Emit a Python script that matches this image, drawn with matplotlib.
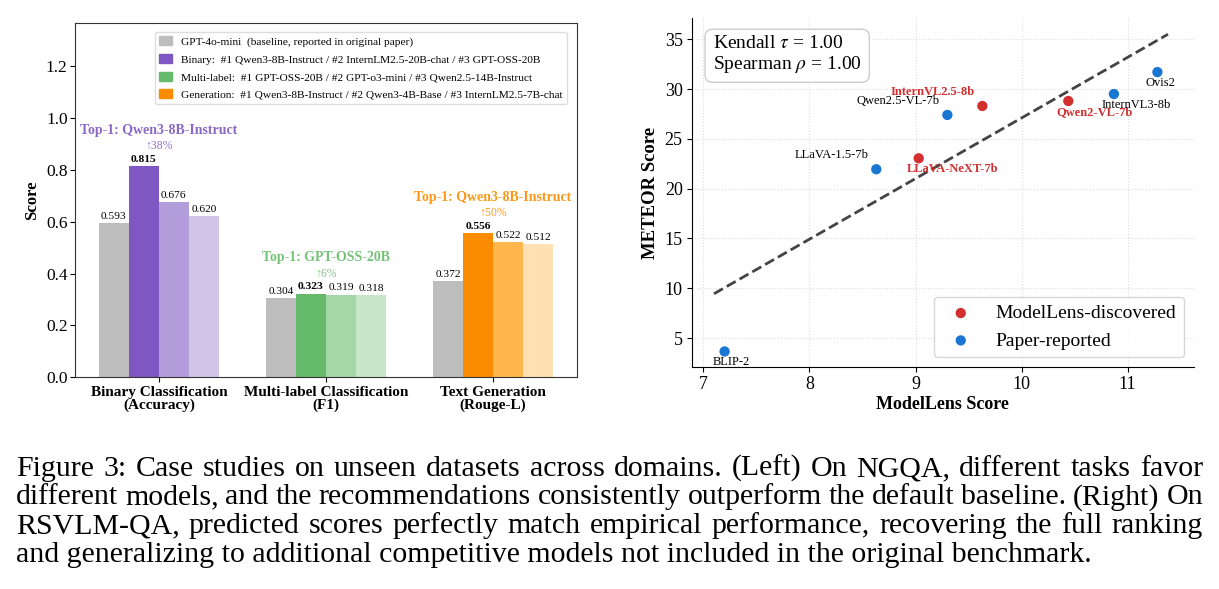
import matplotlib
matplotlib.use("Agg")
import matplotlib.pyplot as plt
from matplotlib.patches import Patch

plt.rcParams["font.family"] = ["Liberation Serif", "DejaVu Serif"]
plt.rcParams["mathtext.fontset"] = "stix"

# ---- left panel data ----
TASKS = ["Binary Classification\n(Accuracy)", "Multi-label Classification\n(F1)", "Text Generation\n(Rouge-L)"]
BASELINE = [0.593, 0.304, 0.372]
RANK1 = [0.815, 0.323, 0.556]
RANK2 = [0.676, 0.319, 0.522]
RANK3 = [0.620, 0.318, 0.512]
GAIN_PCT = [38, 6, 50]
TOP1_NAMES = ["Qwen3-8B-Instruct", "GPT-OSS-20B", "Qwen3-8B-Instruct"]
LEGEND_LABELS = [
    "GPT-4o-mini  (baseline, reported in original paper)",
    "Binary:  #1 Qwen3-8B-Instruct / #2 InternLM2.5-20B-chat / #3 GPT-OSS-20B",
    "Multi-label:  #1 GPT-OSS-20B / #2 GPT-o3-mini / #3 Qwen2.5-14B-Instruct",
    "Generation:  #1 Qwen3-8B-Instruct / #2 Qwen3-4B-Base / #3 InternLM2.5-7B-chat",
]

# ---- right panel data ----
MODELS = ["BLIP-2", "LLaVA-1.5-7b", "LLaVA-NeXT-7b", "Qwen2.5-VL-7b",
          "InternVL2.5-8b", "Qwen2-VL-7b", "InternVL3-8b", "Ovis2"]
MODELLENS = [7.20, 8.63, 9.03, 9.30, 9.63, 10.44, 10.87, 11.28]
METEOR = [3.66, 21.95, 23.05, 27.4, 28.3, 28.8, 29.5, 31.7]
SOURCE = ["paper", "paper", "found", "paper", "found", "found", "paper", "paper"]
LABEL_SIDE = ["below", "above", "below", "above", "above", "below", "below", "below"]
TREND_X = [7.10, 11.38]
TREND_Y = [9.45, 35.5]

CAPTION = [
    "Figure 3: Case studies on unseen datasets across domains. (Left) On NGQA, different tasks favor",
    "different models, and the recommendations consistently outperform the default baseline. (Right) On",
    "RSVLM-QA, predicted scores perfectly match empirical performance, recovering the full ranking",
    "and generalizing to additional competitive models not included in the original benchmark.",
]

GRAY = "#bdbdbd"
SHADES = [
    ["#7e57c2", "#b39ddb", "#d1c4e9"],
    ["#66bb6a", "#a5d6a7", "#c8e6c9"],
    ["#fb8c00", "#ffb74d", "#ffe0b2"],
]
RED = "#d32f2f"
BLUE = "#1976d2"

W, H = 1219, 589
fig = plt.figure(figsize=(W / 100, H / 100), dpi=100)


def px_box(l, t, r, b):
    return [l / W, 1 - b / H, (r - l) / W, (b - t) / H]


# ================= left: grouped bars =================
ax = fig.add_axes(px_box(75.3, 22.7, 576.6, 377.3))
bw = 0.18
for i in range(3):
    vals = [BASELINE[i], RANK1[i], RANK2[i], RANK3[i]]
    cols = [GRAY] + SHADES[i]
    for j, (v, c) in enumerate(zip(vals, cols)):
        x = i + (j - 1.5) * bw
        ax.bar(x, v, width=bw, color=c, edgecolor="none")
        ax.annotate(f"{v:.3f}", (x, v), xytext=(0, 1.5), textcoords="offset points",
                    ha="center", va="bottom", fontsize=8.2,
                    fontweight="bold" if j == 1 else "normal")
    ax.text(i, RANK1[i] + 0.076, f"\u2191{GAIN_PCT[i]}%", ha="center", va="center",
            fontsize=8.5, color=SHADES[i][0], alpha=0.85)
    ax.text(i, RANK1[i] + 0.138, f"Top-1: {TOP1_NAMES[i]}", ha="center", va="center",
            fontsize=10, fontweight="bold", color=SHADES[i][0], alpha=0.9)

ax.set_xlim(-0.5, 2.5)
ax.set_ylim(0, 1.367)
ax.set_xticks(range(3))
ax.set_xticklabels(TASKS, fontsize=11, fontweight="bold", linespacing=0.95)
ax.set_yticks([0.0, 0.2, 0.4, 0.6, 0.8, 1.0, 1.2])
ax.tick_params(axis="y", labelsize=12.5, length=3.5, pad=2)
ax.tick_params(axis="x", length=3.5, pad=2.5)
ax.set_ylabel("Score", fontsize=12, fontweight="bold", labelpad=4)
for s in ax.spines.values():
    s.set_color("#333333")

handles = [Patch(color=GRAY)] + [Patch(color=SHADES[i][0]) for i in range(3)]
ax.legend(handles, LEGEND_LABELS, loc="upper right", fontsize=8.2, handlelength=1.15,
          handleheight=0.85, labelspacing=0.62, borderaxespad=0.8, framealpha=1,
          edgecolor="#dddddd", fancybox=True)

# ================= right: scatter =================
ax2 = fig.add_axes(px_box(691.7, 18.3, 1194, 367))
ax2.grid(True, linestyle=":", color="#dddddd", linewidth=0.8)
ax2.set_axisbelow(True)
ax2.plot(TREND_X, TREND_Y, linestyle="--", color="#444444", linewidth=2)

for src, col, lab in [("found", RED, "ModelLens-discovered"), ("paper", BLUE, "Paper-reported")]:
    xs = [x for x, s in zip(MODELLENS, SOURCE) if s == src]
    ys = [y for y, s in zip(METEOR, SOURCE) if s == src]
    ax2.scatter(xs, ys, s=55, color=col, zorder=3, label=lab, edgecolors="none")

for name, x, y, src, side in zip(MODELS, MODELLENS, METEOR, SOURCE, LABEL_SIDE):
    found = src == "found"
    if side == "above":
        off, ha = (-5.8, 10), "right"
    else:
        off, ha = (-8.6, -7.9), "left"
    ax2.annotate(name, (x, y), xytext=off, textcoords="offset points", ha=ha, va="center",
                 fontsize=9, color=RED if found else "black",
                 fontweight="bold" if found else "normal", zorder=4)

ax2.set_xlim(6.89, 11.625)
ax2.set_ylim(2.1, 37.1)
ax2.set_xticks([7, 8, 9, 10, 11])
ax2.set_yticks([5, 10, 15, 20, 25, 30, 35])
ax2.tick_params(labelsize=13, length=3.5, pad=3)
ax2.spines["top"].set_visible(False)
ax2.spines["right"].set_visible(False)
ax2.set_xlabel("ModelLens Score", fontsize=13, fontweight="bold", labelpad=2)
ax2.set_ylabel("METEOR Score", fontsize=13.5, fontweight="bold", labelpad=4)
ax2.text(0.042, 0.952, "Kendall $\\tau$ = 1.00\nSpearman $\\rho$ = 1.00",
         transform=ax2.transAxes, ha="left", va="top", fontsize=14, linespacing=1.1,
         bbox=dict(boxstyle="round,pad=0.4", facecolor="white", edgecolor="#cccccc"))
ax2.legend(loc="lower right", fontsize=14)

# ================= caption (justified) =================
x0, x1 = 16, 1203
baselines = [476, 504.5, 533, 561.5]
cap_size = 21.5
renderer = fig.canvas.get_renderer()
for k, (line, yb) in enumerate(zip(CAPTION, baselines)):
    yf = 1 - yb / H
    if k == len(CAPTION) - 1:
        fig.text(x0 / W, yf, line, fontsize=cap_size, va="baseline", ha="left")
        continue
    words = line.split(" ")
    texts = [fig.text(0, yf, w, fontsize=cap_size, va="baseline", ha="left") for w in words]
    widths = [t.get_window_extent(renderer).width for t in texts]
    gap = (x1 - x0 - sum(widths)) / (len(words) - 1)
    xpos = x0
    for t, wd in zip(texts, widths):
        t.set_x(xpos / W)
        xpos += wd + gap

fig.savefig("out.png", dpi=100)
